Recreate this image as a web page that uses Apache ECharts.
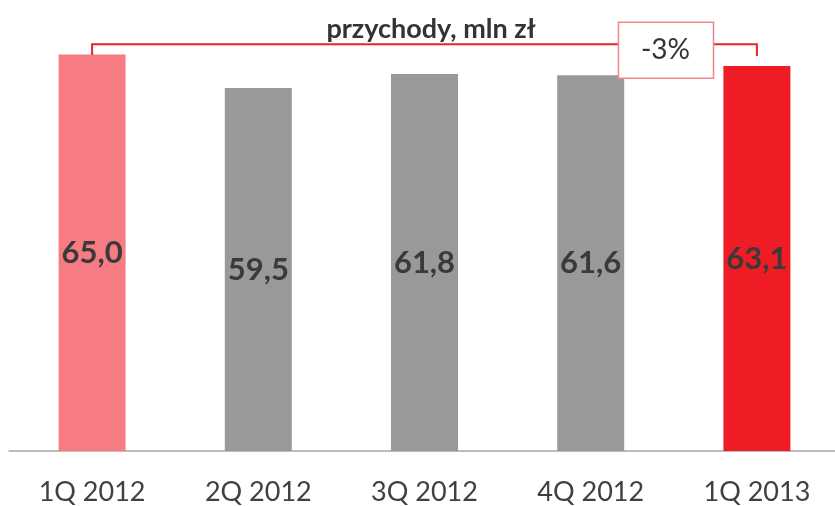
<!DOCTYPE html>
<html>
<head>
<meta charset="utf-8">
<script src="https://cdn.jsdelivr.net/npm/echarts@6/dist/echarts.min.js"></script>
<style>
  html, body { margin: 0; padding: 0; background: #fff; }
  #chart { width: 835px; height: 506px; }
</style>
</head>
<body>
<div id="chart"></div>
<script>
const categories = ['1Q 2012', '2Q 2012', '3Q 2012', '4Q 2012', '1Q 2013'];
const revenue = [65.0, 59.5, 61.8, 61.6, 63.1];
const barColors = ['#f77b82', '#999999', '#999999', '#999999', '#ee1c25'];
const changeLabel = '-3%';

const chart = echarts.init(document.getElementById('chart'));

const option = {
  animation: false,
  title: {
    text: 'przychody, mln zł',
    left: 426,
    top: 11,
    textAlign: 'center',
    textStyle: { fontFamily: 'Lato', fontWeight: 'bold', fontSize: 27, color: '#333333' }
  },
  grid: { left: 9, width: 831, top: 24, bottom: 55, outerBoundsMode: 'none', containLabel: false },
  xAxis: {
    type: 'category',
    data: categories,
    axisLine: { lineStyle: { color: '#a6a6a6', width: 1.5 } },
    axisTick: { show: false },
    axisLabel: { fontFamily: 'Lato', fontSize: 27, color: '#404040', margin: 28 }
  },
  yAxis: { type: 'value', min: 0, max: 70, show: false },
  series: [{
    type: 'bar',
    barWidth: 67,
    data: revenue.map((v, i) => ({ value: v, itemStyle: { color: barColors[i] } })),
    label: {
      show: true,
      position: 'inside',
      fontFamily: 'Lato',
      fontWeight: 'bold',
      fontSize: 31,
      color: '#3a3a3a',
      formatter: p => p.value.toFixed(1).replace('.', ',')
    }
  }]
};

chart.setOption(option);

// bracket between first and last bar, with the change box on top
const px = (idx, val) => chart.convertToPixel({ xAxisIndex: 0, yAxisIndex: 0 }, [idx, val]);
const a = px(0, 66.7), b = px(4, 66.7);
const aBot = px(0, 64.9), bBot = px(4, 64.75);
const c3 = px(3, 65.7), c4 = px(4, 65.7);
const box = [c3[0] + 0.45 * (c4[0] - c3[0]), c3[1]];

chart.setOption({
  graphic: [
    {
      type: 'polyline',
      shape: { points: [[a[0], aBot[1]], [a[0], a[1]], [b[0], b[1]], [b[0], bBot[1]]] },
      style: { stroke: '#e8232b', lineWidth: 2, fill: null },
      z: 10
    },
    {
      type: 'rect',
      shape: { x: box[0] - 47, y: box[1] - 28, width: 95, height: 56 },
      style: { fill: '#ffffff', stroke: '#f4858c', lineWidth: 1.5 },
      z: 11
    },
    {
      type: 'text',
      x: box[0], y: box[1],
      style: {
        text: changeLabel, fontFamily: 'Lato', fontSize: 28, fill: '#333333',
        align: 'center', verticalAlign: 'middle'
      },
      z: 12
    }
  ]
});
</script>
</body>
</html>
